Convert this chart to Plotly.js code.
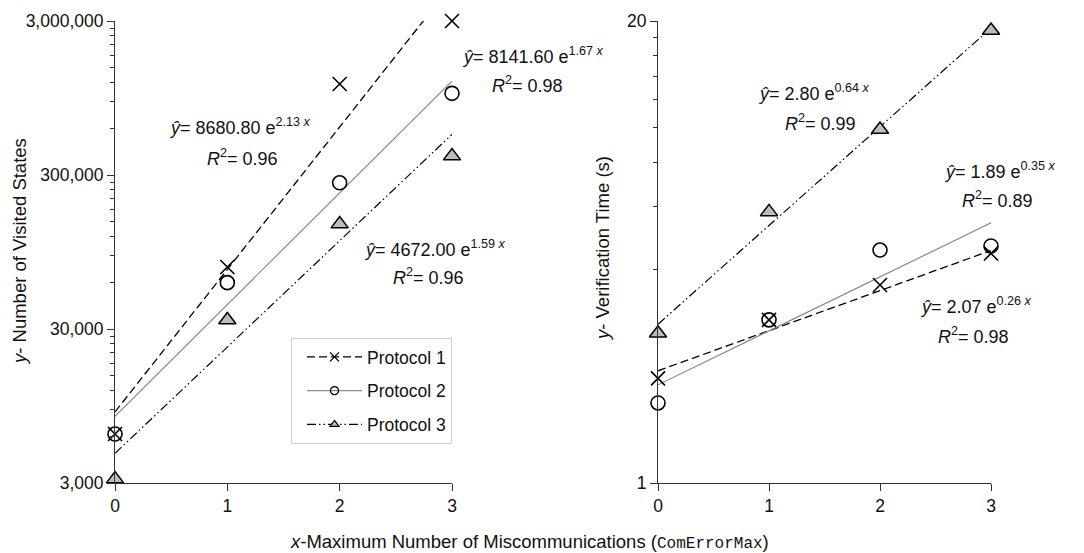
<!DOCTYPE html>
<html>
<head>
<meta charset="utf-8">
<script src="https://cdn.plot.ly/plotly-3.0.1.min.js"></script>
<style>html,body{margin:0;padding:0;background:#fff;}#chart{width:1084px;height:553px;}</style>
</head>
<body>
<div id="chart"></div>
<script>
// ---- data ----
const xVals = [0, 1, 2, 3];
const protocolNames = ["Protocol 1", "Protocol 2", "Protocol 3"];
// Number of visited states (left panel)
const statesP1 = [6240, 75800, 1170000, 3000000];
const statesP2 = [6240, 60000, 267000, 1017000];
const statesP3 = [3180, 34300, 144000, 398000];
// Verification time in seconds (right panel)
const timeP1 = [1.97, 2.88, 3.61, 4.43];
const timeP2 = [1.68, 2.88, 4.53, 4.65];
const timeP3 = [2.64, 5.80, 9.90, 18.8];
// Exponential fits y = a e^(b x)
const statesFitA = [8680.80, 8141.60, 4672.00];
const statesFitB = [2.13, 1.67, 1.59];
const statesR2 = [0.96, 0.98, 0.96];
const timeFitA = [2.07, 1.89, 2.80];
const timeFitB = [0.26, 0.35, 0.64];
const timeR2 = [0.98, 0.89, 0.99];
// tick labels
const statesTickVals = [3000, 30000, 300000, 3000000];
const statesTickText = ["3,000", "30,000", "300,000", "3,000,000"];
const timeTickVals = [1, 20];
const timeTickText = ["1", "20"];
const xTickVals = [0, 1, 2, 3];
const statesMinorMult = [2, 3, 4, 5, 6, 7, 8, 9];
const timeMinorTicks = [4, 6, 8, 10, 12, 14, 16, 18];

// ---- styles ----
const FONT = "Liberation Sans, Arial, Helvetica, sans-serif";
const W = 1084, H = 553;
const lineStyles = [
  {color: "#000", width: 1.3, dash: "8px,4px"},
  {color: "#8a8a8a", width: 1.2, dash: "solid"},
  {color: "#000", width: 1.2, dash: "9px,3px,1.5px,3px,1.5px,3px"}
];
const markerStyles = [
  {symbol: "x-thin-open", size: 14, color: "#000", line: {color: "#000", width: 1.6}},
  {symbol: "circle-open", size: 14, color: "#000", line: {color: "#000", width: 1.6}},
  {symbol: "triangle-up", size: 15, color: "#bdbdbd", line: {color: "#000", width: 1.5}}
];
const legendMarkers = [
  {symbol: "x-thin-open", size: 9, color: "#000", line: {color: "#000", width: 1.3}},
  {symbol: "circle-open", size: 8, color: "#000", line: {color: "#000", width: 1.2}},
  {symbol: "triangle-up", size: 8, color: "#bdbdbd", line: {color: "#000", width: 1.2}}
];

const statesSeries = [statesP1, statesP2, statesP3];
const timeSeries = [timeP1, timeP2, timeP3];
const xEnds = [xVals[0], xVals[xVals.length - 1]];

const traces = [];
function addPanel(series, fitA, fitB, xa, ya) {
  for (let i = 0; i < 3; i++) {
    traces.push({
      type: "scatter", mode: "lines", xaxis: xa, yaxis: ya,
      x: xEnds, y: xEnds.map(x => fitA[i] * Math.exp(fitB[i] * x)),
      line: lineStyles[i], showlegend: false, hoverinfo: "skip"
    });
  }
  for (let i = 0; i < 3; i++) {
    traces.push({
      type: "scatter", mode: "markers", xaxis: xa, yaxis: ya,
      x: xVals, y: series[i], marker: markerStyles[i],
      cliponaxis: false, showlegend: false, name: protocolNames[i]
    });
  }
}
addPanel(statesSeries, statesFitA, statesFitB, "x", "y");
addPanel(timeSeries, timeFitA, timeFitB, "x2", "y2");
// empty helper traces so the minor-tick overlay axes get drawn
traces.push({type: "scatter", mode: "markers", xaxis: "x", yaxis: "y3", x: [null], y: [null], showlegend: false, hoverinfo: "skip"});
traces.push({type: "scatter", mode: "markers", xaxis: "x2", yaxis: "y4", x: [null], y: [null], showlegend: false, hoverinfo: "skip"});
for (let i = 0; i < 3; i++) {
  traces.push({
    type: "scatter", mode: "lines+markers", xaxis: "x", yaxis: "y",
    x: [null], y: [null], name: protocolNames[i], legendgroup: "g" + i,
    line: lineStyles[i], marker: legendMarkers[i], showlegend: true
  });
}

function decadeMinor(bases, mults) {
  const out = [];
  bases.forEach(b => mults.forEach(m => out.push(b * m)));
  return out;
}

const axisCommon = {
  showline: true, linecolor: "#333", linewidth: 1, ticks: "outside",
  ticklen: 7, tickwidth: 1, tickcolor: "#333", showgrid: false, zeroline: false,
  tickfont: {family: FONT, size: 17.5, color: "#111"}, fixedrange: true
};

function px(x) { return x / W; }
function py(y) { return 1 - y / H; }

const annPos = [
  {p: 0, s: 0, ex: 240, ey: 126, rx: 242, ry: 157},
  {p: 0, s: 1, ex: 533, ey: 56, rx: 527, ry: 84},
  {p: 0, s: 2, ex: 435, ey: 248, rx: 428, ry: 276},
  {p: 1, s: 2, ex: 814, ey: 93, rx: 820, ry: 123},
  {p: 1, s: 1, ex: 1000, ey: 171, rx: 997, ry: 199},
  {p: 1, s: 0, ex: 976, ey: 305, rx: 973, ry: 335}
];
const ANN_FONT = {family: FONT, size: 18, color: "#111"};
const annotations = [];
annPos.forEach(a => {
  const A = a.p === 0 ? statesFitA : timeFitA;
  const B = a.p === 0 ? statesFitB : timeFitB;
  const R = a.p === 0 ? statesR2 : timeR2;
  annotations.push({
    xref: "paper", yref: "paper", x: px(a.ex), y: py(a.ey), xanchor: "center", yanchor: "middle",
    showarrow: false, font: ANN_FONT,
    text: "<i>ŷ</i>= " + A[a.s].toFixed(2) + " e<sup>" + B[a.s].toFixed(2) + " <i>x</i></sup>"
  });
  annotations.push({
    xref: "paper", yref: "paper", x: px(a.rx), y: py(a.ry), xanchor: "center", yanchor: "middle",
    showarrow: false, font: ANN_FONT,
    text: "<i>R</i><sup>2</sup>= " + R[a.s].toFixed(2)
  });
});
const TITLE_FONT = {family: FONT, size: 18.5, color: "#111"};
annotations.push({
  xref: "paper", yref: "paper", x: px(19), y: py(252), textangle: -90,
  xanchor: "center", yanchor: "middle", showarrow: false,
  font: TITLE_FONT, text: "<i>y</i>- Number of Visited States"
});
annotations.push({
  xref: "paper", yref: "paper", x: px(603), y: py(249), textangle: -90,
  xanchor: "center", yanchor: "middle", showarrow: false,
  font: TITLE_FONT, text: "<i>y</i>- Verification Time (s)"
});
annotations.push({
  xref: "paper", yref: "paper", x: px(529), y: py(542),
  xanchor: "center", yanchor: "middle", showarrow: false,
  font: TITLE_FONT,
  text: "<i>x</i>-Maximum Number of Miscommunications (<span style=\"font-family:Liberation Mono, Courier New, monospace;font-size:16px\">ComErrorMax</span>)"
});

const minorAxis = {
  showline: false, ticks: "outside", ticklen: 4, tickwidth: 1, tickcolor: "#333",
  showgrid: false, zeroline: false, showticklabels: false, fixedrange: true, type: "log",
  tickmode: "array", side: "left"
};

const layout = {
  width: W, height: H,
  margin: {l: 0, r: 0, t: 0, b: 0},
  paper_bgcolor: "#fff", plot_bgcolor: "#fff",
  font: {family: FONT, size: 17, color: "#111"},
  xaxis: Object.assign({}, axisCommon, {
    domain: [px(115), px(452)], range: [0, 3], tickmode: "array", tickvals: xTickVals, anchor: "y"
  }),
  yaxis: Object.assign({}, axisCommon, {
    domain: [py(483), py(21)], type: "log", range: [Math.log10(3000), Math.log10(3000000)],
    tickmode: "array", tickvals: statesTickVals, ticktext: statesTickText, anchor: "x"
  }),
  yaxis3: Object.assign({}, minorAxis, {
    overlaying: "y", anchor: "x", range: [Math.log10(3000), Math.log10(3000000)],
    tickvals: decadeMinor([3000, 30000, 300000], statesMinorMult)
  }),
  xaxis2: Object.assign({}, axisCommon, {
    domain: [px(658), px(991)], range: [0, 3], tickmode: "array", tickvals: xTickVals, anchor: "y2"
  }),
  yaxis2: Object.assign({}, axisCommon, {
    domain: [py(483), py(21)], type: "log", range: [0, Math.log10(20)],
    tickmode: "array", tickvals: timeTickVals, ticktext: timeTickText, anchor: "x2"
  }),
  yaxis4: Object.assign({}, minorAxis, {
    overlaying: "y2", anchor: "x2", range: [0, Math.log10(20)],
    tickvals: timeMinorTicks
  }),
  showlegend: true,
  legend: {
    x: px(452), xanchor: "right", y: py(338), yanchor: "top",
    bgcolor: "#fff", bordercolor: "#cfcfcf", borderwidth: 1,
    font: {family: FONT, size: 17.5, color: "#111"},
    itemwidth: 55, tracegroupgap: 8, traceorder: "grouped", indentation: 10
  },
  annotations: annotations
};

Plotly.newPlot("chart", traces, layout, {staticPlot: true, displayModeBar: false});
</script>
</body>
</html>
